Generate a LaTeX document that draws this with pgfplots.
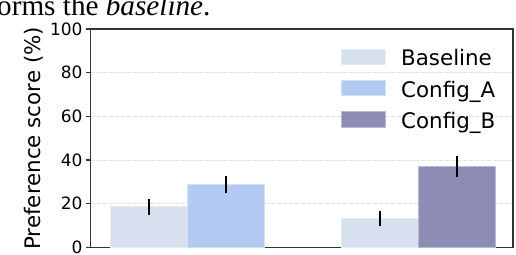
\documentclass[border=0pt]{standalone}
\usepackage{pgfplots}
\pgfplotsset{compat=1.18}
\usepackage{fontspec}
\setmainfont{DejaVu Sans}
\newfontfamily\serif{Liberation Serif}
\definecolor{cBase}{HTML}{D6E0EF}
\definecolor{cA}{HTML}{B3CBF3}
\definecolor{cB}{HTML}{8C8CB4}
\definecolor{axc}{HTML}{333333}
\pgfplotsset{boxlegend/.style={legend image code/.code={\draw[##1, line width=0.8pt] (0pt,-3.8pt) rectangle (44pt,11.7pt);}}}
\begin{document}
\begin{tikzpicture}[x=1pt,y=1pt]
\useasboundingbox (0,0) rectangle (516,254);
\clip (0,0) rectangle (516,254);
\node[anchor=base west, inner sep=0pt, font=\serif\fontsize{29.2}{29.2}\selectfont] at (-3,238.5) {orms the \textit{baseline}.};
\begin{axis}[
  at={(90.7pt,6.5pt)}, anchor=south west,
  scale only axis, width=422.3pt, height=218.5pt,
  xmin=-0.417, xmax=1.411, ymin=0, ymax=100,
  ytick={0,20,40,60,80,100}, xtick=\empty,
  ytick pos=left, tick align=outside, major tick length=4.5pt,
  tick style={axc, line width=1.2pt},
  axis line style={axc, line width=1.5pt},
  ymajorgrids, grid style={dashed, dash pattern=on 4pt off 2pt, color=black!12, line width=0.8pt},
  /pgf/number format/assume math mode=true,
  tick label style={font=\fontsize{17}{18}\selectfont},
  yticklabel style={inner sep=3.5pt},
  ylabel={Preference score (\%)},
  ylabel style={font=\fontsize{21.4}{23}\selectfont, at={(axis description cs:-0.134,0.5)}, anchor=center},
  ybar, bar shift=0pt, bar width=0.333,
  legend style={draw=none, fill=none, at={(0.586,0.919)}, anchor=north west, row sep=9pt, column sep=15pt,
    font=\fontsize{21.4}{23}\selectfont, nodes={inner sep=0pt, text height=15pt, text depth=5pt}},
  legend cell align=left,
]
\addplot[fill=cBase, draw=white!40!cBase, line width=0.8pt, boxlegend,
  error bars/.cd, y dir=both, y explicit, error mark=none, error bar style={black, line width=2pt}]
  coordinates {(-0.1667,18.6) +- (0,3.6) (0.8333,13.3) +- (0,3.3)};
\addplot[fill=cA, draw=white!40!cA, line width=0.8pt, boxlegend,
  error bars/.cd, y dir=both, y explicit, error mark=none, error bar style={black, line width=2pt}]
  coordinates {(0.1667,28.8) +- (0,4.0)};
\addplot[fill=cB, draw=white!40!cB, line width=0.8pt, boxlegend,
  error bars/.cd, y dir=both, y explicit, error mark=none, error bar style={black, line width=2pt}]
  coordinates {(1.1667,37.1) +- (0,4.7)};
\legend{Baseline, Config\_A, Config\_B}
\end{axis}
\end{tikzpicture}
\end{document}
